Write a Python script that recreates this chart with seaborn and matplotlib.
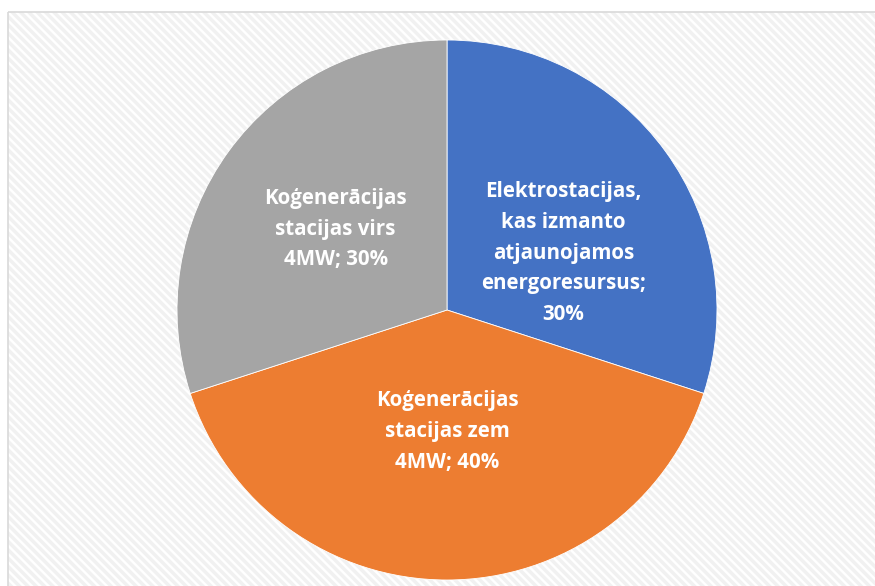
import numpy as np
import seaborn as sns
import matplotlib.pyplot as plt
from matplotlib.patches import Rectangle

sns.set_theme(style='white')
plt.rcParams['font.family'] = ['Open Sans', 'DejaVu Sans']
plt.rcParams['hatch.linewidth'] = 2.5

# chart data
labels = ['Elektrostacijas,\nkas izmanto\natjaunojamos\nenergoresursus;\n30%',
          'Koģenerācijas\nstacijas zem\n4MW; 40%',
          'Koģenerācijas\nstacijas virs\n4MW; 30%']
shares = [30, 40, 30]
colors = ['#4472C4', '#ED7D31', '#A5A5A5']

fig = plt.figure(figsize=(8.75, 5.86), dpi=100)
W, H = 875, 586

# background axes: hatched chart area with light border
bg = fig.add_axes([0, 0, 1, 1], zorder=0)
bg.set_xlim(0, W)
bg.set_ylim(H, 0)
bg.axis('off')
bg.add_patch(Rectangle((8, 12), W, H, facecolor='white', edgecolor='#f1f1f1',
                       hatch='\\\\\\\\', linewidth=0))
bg.add_patch(Rectangle((8, 12), W + 10, H + 10, facecolor='none',
                       edgecolor='#d9d9d9', linewidth=1.2))

ax = fig.add_axes([177 / W, 6 / H, 540 / W, 540 / H], zorder=1)
wedges, _ = ax.pie(shares, colors=colors, startangle=90, counterclock=False,
                   radius=1.0, wedgeprops=dict(linewidth=0.6, edgecolor='white'))
ax.set_xlim(-1, 1)
ax.set_ylim(-1, 1)
ax.set_aspect('equal')
ax.axis('off')

# label placement: distance from centre and small angular tweak per wedge
dists = [0.48, 0.45, 0.51]
shifts = [-10, 0, 0]
for w, lab, d, s in zip(wedges, labels, dists, shifts):
    ang = np.deg2rad((w.theta1 + w.theta2) / 2 + s)
    ax.text(d * np.cos(ang), d * np.sin(ang), lab, ha='center', va='center',
            color='white', fontsize=14.8, fontweight='bold', linespacing=1.6)

fig.savefig('out.png', dpi=100)
